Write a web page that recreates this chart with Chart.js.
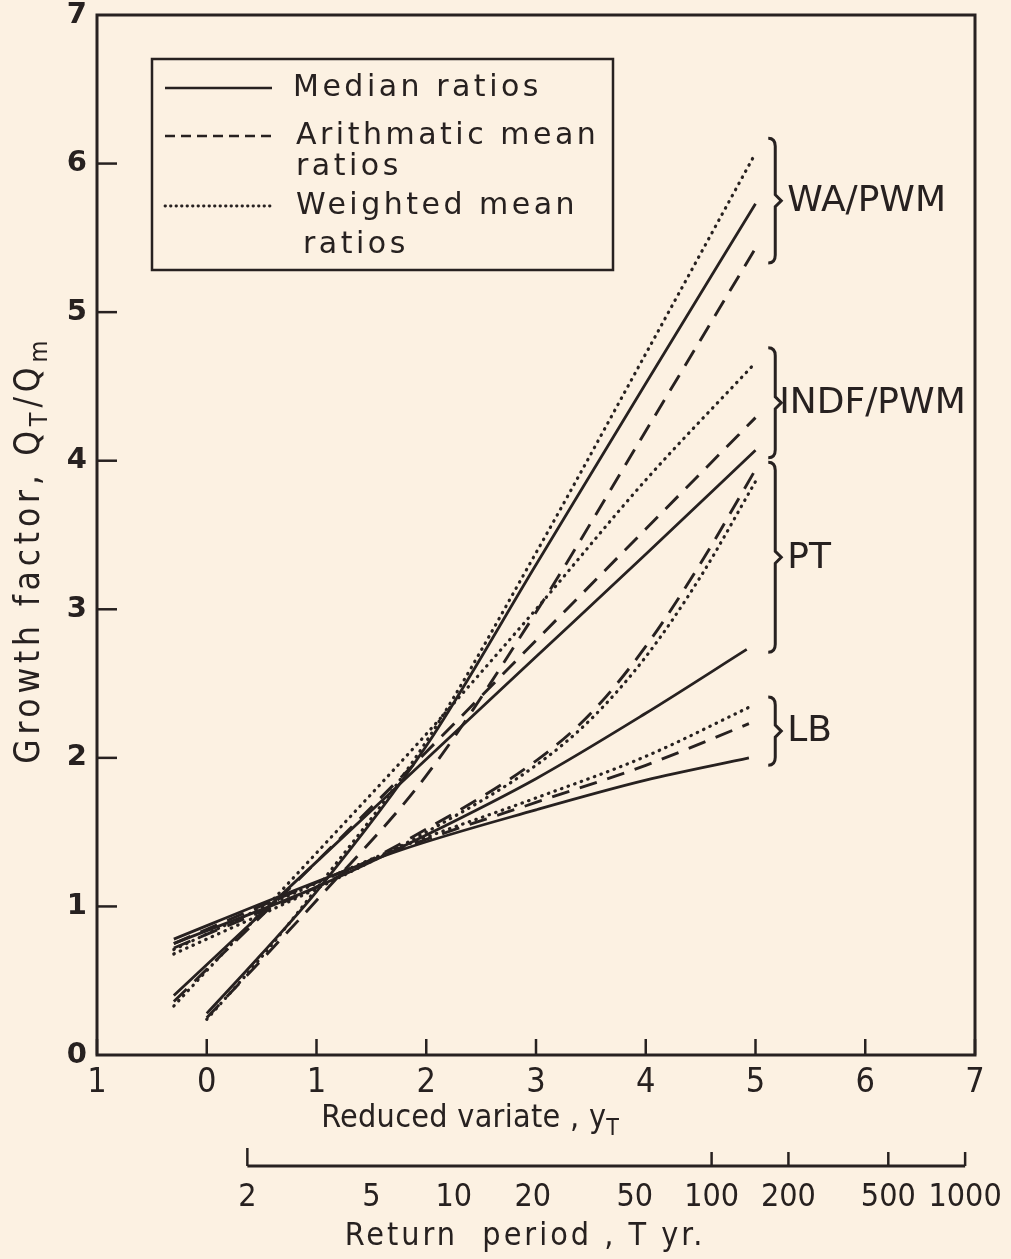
<!DOCTYPE html>
<html lang="en">
<head>
<meta charset="UTF-8">
<title>Growth factor vs reduced variate</title>
<script src="https://cdn.jsdelivr.net/npm/chart.js"></script>
<style>
  html, body { margin: 0; padding: 0; background: #fcf1e2; }
  #chart { display: block; }
</style>
</head>
<body>
<canvas id="chart" width="1011" height="1259"></canvas>
<script>
const xWA = [0, 0.5, 1, 2, 3, 4, 5];
const waMedian   = [0.28, 0.68, 1.10, 2.08, 3.30, 4.52, 5.73];
const waArith    = [0.25, 0.64, 1.04, 1.88, 2.98, 4.20, 5.43];
const waWeighted = [0.24, 0.66, 1.12, 2.11, 3.38, 4.72, 6.07];

const xINDF = [-0.3, 1, 2, 3, 4, 5];
const indfMedian   = [0.40, 1.30, 1.99, 2.68, 3.37, 4.07];
const indfArith    = [0.36, 1.30, 2.04, 2.79, 3.54, 4.29];
const indfWeighted = [0.33, 1.36, 2.16, 3.00, 3.87, 4.66];

const xPTmed = [-0.3, 1, 2, 3, 4, 4.92];
const ptMedian = [0.75, 1.13, 1.48, 1.86, 2.30, 2.73];
const xPT = [-0.3, 1, 2, 3, 3.5, 4, 4.5, 5];
const ptArith    = [0.72, 1.13, 1.52, 1.98, 2.30, 2.75, 3.31, 3.94];
const ptWeighted = [0.68, 1.12, 1.50, 1.95, 2.26, 2.68, 3.22, 3.86];

const xLB = [-0.3, 0.74, 1.77, 3, 4, 4.94];
const lbMedian   = [0.78, 1.09, 1.38, 1.65, 1.85, 2.00];
const lbArith    = [0.75, 1.08, 1.39, 1.70, 1.95, 2.23];
const lbWeighted = [0.71, 1.07, 1.40, 1.73, 2.01, 2.34];

// return period axis: labels and their reduced variate positions
const returnPeriods = ['2', '5', '10', '20', '50', '100', '200', '500', '1000'];
const returnPeriodPos = [0.37, 1.50, 2.25, 2.97, 3.90, 4.60, 5.30, 6.21, 6.91];
const returnPeriodMarked = [true, false, false, false, false, true, true, true, true];

const methodNames = ['WA/PWM', 'INDF/PWM', 'PT', 'LB'];
const legendLabels = [['Median ratios'], ['Arithmatic mean', 'ratios'], ['Weighted mean', 'ratios']];

const ink = '#272120';
const paper = '#fcf1e2';
const fontMain = "'DejaVu Sans', sans-serif";
const fontCond = "'DejaVu Sans Condensed', 'DejaVu Sans', sans-serif";

// brace ranges on the right (growth factor units)
const braces = [
  { lo: 5.33, hi: 6.17 },
  { lo: 4.02, hi: 4.76 },
  { lo: 2.71, hi: 3.99 },
  { lo: 1.95, hi: 2.41 }
];

const styles = {
  median:   { borderWidth: 2.8, borderDash: [] },
  arith:    { borderWidth: 2.9, borderDash: [18, 11] },
  weighted: { borderWidth: 3.2, borderDash: [0.5, 6.5], borderCapStyle: 'round' }
};

function series(xs, ys, kind) {
  return Object.assign({
    data: xs.map((x, i) => ({ x: x, y: ys[i] })),
    borderColor: ink,
    pointRadius: 0,
    fill: false,
    cubicInterpolationMode: 'monotone'
  }, styles[kind]);
}

const datasets = [
  series(xWA, waMedian, 'median'),
  series(xWA, waArith, 'arith'),
  series(xWA, waWeighted, 'weighted'),
  series(xINDF, indfMedian, 'median'),
  series(xINDF, indfArith, 'arith'),
  series(xINDF, indfWeighted, 'weighted'),
  series(xPTmed, ptMedian, 'median'),
  series(xPT, ptArith, 'arith'),
  series(xPT, ptWeighted, 'weighted'),
  series(xLB, lbMedian, 'median'),
  series(xLB, lbArith, 'arith'),
  series(xLB, lbWeighted, 'weighted')
];

function line(ctx, x1, y1, x2, y2) {
  ctx.beginPath();
  ctx.moveTo(x1, y1);
  ctx.lineTo(x2, y2);
  ctx.stroke();
}

// centred text with subscript runs: parts = [[text, isSub], ...]
function richText(ctx, parts, x, y, size, family, spacing) {
  const big = size + 'px ' + family;
  const small = Math.round(size * 0.72) + 'px ' + family;
  ctx.letterSpacing = (spacing || 0) + 'px';
  let w = 0;
  parts.forEach(p => { ctx.font = p[1] ? small : big; w += ctx.measureText(p[0]).width; });
  let cx = x - w / 2;
  ctx.textAlign = 'left';
  ctx.textBaseline = 'middle';
  parts.forEach(p => {
    ctx.font = p[1] ? small : big;
    ctx.fillText(p[0], cx, p[1] ? y + size * 0.3 : y);
    cx += ctx.measureText(p[0]).width;
  });
  ctx.letterSpacing = '0px';
}

const background = {
  id: 'background',
  beforeDraw(chart) {
    const ctx = chart.ctx;
    ctx.save();
    ctx.fillStyle = paper;
    ctx.fillRect(0, 0, chart.width, chart.height);
    ctx.restore();
  }
};

const decorations = {
  id: 'decorations',
  afterDraw(chart) {
    const { ctx, chartArea: a, scales } = chart;
    const sx = scales.x, sy = scales.y, st = scales.xT;
    ctx.save();
    ctx.strokeStyle = ink;
    ctx.fillStyle = ink;
    ctx.lineCap = 'butt';

    // frame
    ctx.lineWidth = 3;
    ctx.strokeRect(a.left, a.top, a.right - a.left, a.bottom - a.top);

    // inward ticks
    ctx.lineWidth = 2.5;
    sx.ticks.forEach(t => {
      const px = sx.getPixelForValue(t.value);
      line(ctx, px, a.bottom, px, a.bottom - 16);
    });
    sy.ticks.forEach(t => {
      if (t.value <= 0 || t.value >= 7) return;
      const py = sy.getPixelForValue(t.value);
      line(ctx, a.left, py, a.left + 20, py);
    });

    // return period axis line and ticks
    const yLine = st.top + 16;
    ctx.lineWidth = 3;
    line(ctx, st.getPixelForValue(returnPeriodPos[0]), yLine,
      st.getPixelForValue(returnPeriodPos[returnPeriodPos.length - 1]), yLine);
    ctx.lineWidth = 2.5;
    returnPeriodPos.forEach((v, i) => {
      if (!returnPeriodMarked[i]) return;
      const px = st.getPixelForValue(v);
      line(ctx, px, yLine, px, yLine - (i === 0 ? 18 : 14));
    });

    // axis titles
    richText(ctx, [['Reduced variate , y', false], ['T', true]],
      sx.getPixelForValue(2.4), sx.top + 64, 32, fontCond, 0.3);
    richText(ctx, [['Return  period , T yr.', false]],
      st.getPixelForValue(2.9), st.top + 87, 32, fontCond, 3);
    ctx.save();
    ctx.translate(30, sy.getPixelForValue(3.4));
    ctx.rotate(-Math.PI / 2);
    richText(ctx, [['Growth factor, Q', false], ['T', true], ['/Q', false], ['m', true]],
      0, 0, 35, fontCond, 4.8);
    ctx.restore();

    // legend
    const bx = a.left + 55, by = a.top + 44, bw = 461, bh = 211;
    ctx.lineWidth = 2.5;
    ctx.strokeRect(bx, by, bw, bh);
    const rows = [29, 77, 147];
    const sampleStyles = [[], [10, 6], [0.5, 5]];
    rows.forEach((ry, i) => {
      ctx.setLineDash(sampleStyles[i]);
      ctx.lineCap = i === 2 ? 'round' : 'butt';
      ctx.lineWidth = i === 2 ? 2.8 : 2.6;
      line(ctx, bx + 13, by + ry, bx + 120, by + ry);
    });
    ctx.setLineDash([]);
    ctx.lineCap = 'butt';
    ctx.font = '30px ' + fontMain;
    ctx.letterSpacing = '3.5px';
    ctx.textAlign = 'left';
    ctx.textBaseline = 'middle';
    ctx.fillText(legendLabels[0][0], bx + 141, by + rows[0]);
    ctx.fillText(legendLabels[1][0], bx + 144, by + rows[1]);
    ctx.fillText(legendLabels[1][1], bx + 144, by + rows[1] + 31);
    ctx.fillText(legendLabels[2][0], bx + 144, by + rows[2]);
    ctx.fillText(legendLabels[2][1], bx + 151, by + rows[2] + 39);
    ctx.letterSpacing = '0px';

    // braces and method names
    const bxp = sx.getPixelForValue(5.18);
    ctx.lineWidth = 3;
    ctx.font = '36px ' + fontMain;
    braces.forEach((b, i) => {
      const top = sy.getPixelForValue(b.hi), bot = sy.getPixelForValue(b.lo);
      const mid = (top + bot) / 2;
      ctx.beginPath();
      ctx.moveTo(bxp - 7, top);
      ctx.quadraticCurveTo(bxp, top, bxp, top + 8);
      ctx.lineTo(bxp, mid - 6);
      ctx.lineTo(bxp + 6, mid);
      ctx.lineTo(bxp, mid + 6);
      ctx.lineTo(bxp, bot - 8);
      ctx.quadraticCurveTo(bxp, bot, bxp - 7, bot);
      ctx.stroke();
      ctx.fillText(methodNames[i], bxp + (i === 1 ? 4 : 12), mid + 1);
    });
    ctx.restore();
  }
};

// keep label overhang from shrinking the plot frame
function noPadX(s, h) { s.height = h; s.paddingLeft = 0; s.paddingRight = 0; }

new Chart(document.getElementById('chart'), {
  type: 'line',
  data: { datasets: datasets },
  options: {
    responsive: false,
    animation: false,
    events: [],
    layout: { padding: { top: 15, right: 36, left: 0, bottom: 0 } },
    plugins: { legend: { display: false }, tooltip: { enabled: false } },
    scales: {
      x: {
        type: 'linear', position: 'bottom', weight: 0,
        min: -1, max: 7,
        afterFit: s => noPadX(s, 95),
        grid: { display: false, drawTicks: false },
        border: { display: false },
        ticks: {
          stepSize: 1, padding: 8, color: ink,
          font: { family: fontCond, size: 34 },
          callback: v => (v < 0 ? String(-v) : String(v))
        }
      },
      xT: {
        type: 'linear', position: 'bottom', weight: 1,
        min: -1, max: 7,
        afterFit: s => noPadX(s, 109),
        afterBuildTicks: s => { s.ticks = returnPeriodPos.map(v => ({ value: v })); },
        grid: { display: false, drawTicks: false },
        border: { display: false },
        ticks: {
          padding: 28, color: ink, autoSkip: false, maxRotation: 0,
          font: { family: fontCond, size: 32 },
          callback: (v, i) => returnPeriods[i]
        }
      },
      y: {
        min: 0, max: 7,
        afterFit: s => { s.width = 97; s.paddingTop = 0; s.paddingBottom = 0; },
        grid: { display: false, drawTicks: false },
        border: { display: false },
        ticks: {
          stepSize: 1, padding: 10, color: ink,
          font: { family: fontMain, size: 29, weight: 'bold' }
        }
      }
    }
  },
  plugins: [background, decorations]
});
</script>
</body>
</html>
